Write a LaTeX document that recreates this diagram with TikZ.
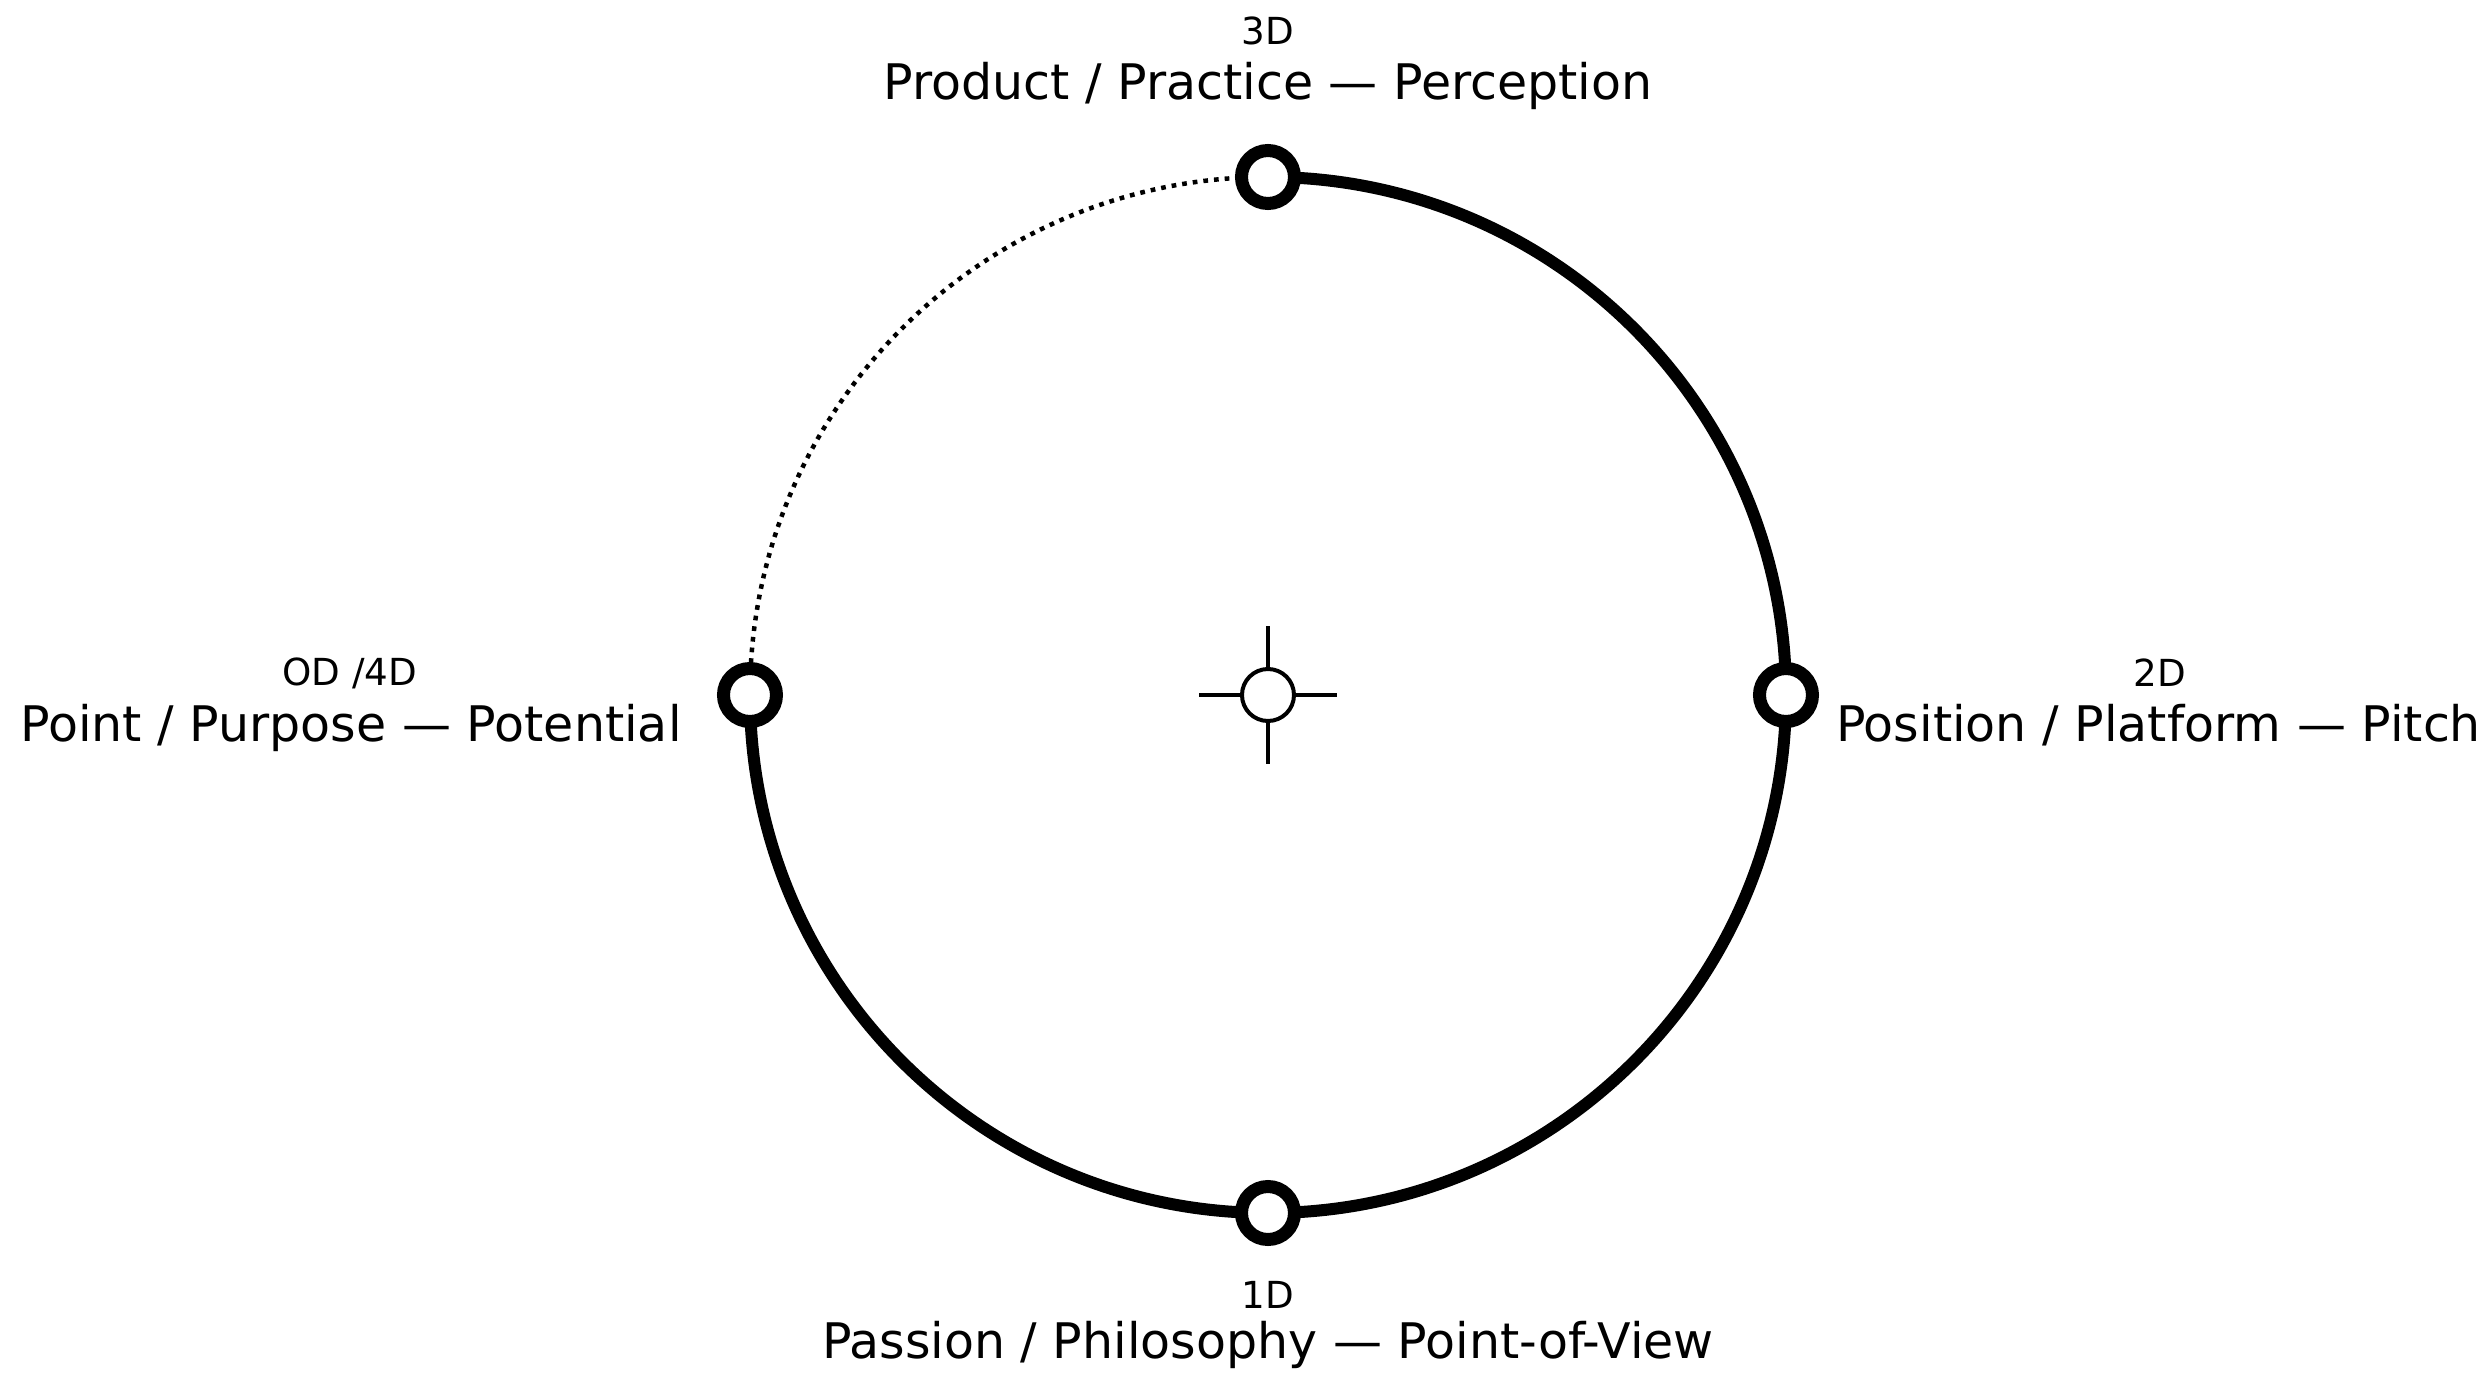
\documentclass[tikz,border=0pt]{standalone}
\usepackage{fontspec}
\setmainfont{DejaVu Sans}
\usepackage{tikz}
\usetikzlibrary{positioning, backgrounds}

\begin{document}
\begin{tikzpicture}[
    every node/.style={font=\fontsize{13.95}{16}\selectfont},
    phasetxt/.style={anchor=base},
    dimtag/.style={anchor=base, font=\fontsize{10.6}{12}\selectfont},
    phasept/.style={circle, draw, fill=white, line width=1.3mm, minimum size=5.3mm, inner sep=0pt},
    hubring/.style={circle, draw, fill=white, line width=0.4mm, minimum size=5.2mm, inner sep=0pt},
    outerring/.style={line width=1.2mm},
    openring/.style={line width=0.45mm, dash pattern=on 0.47mm off 0.6mm}
]
    \useasboundingbox (-12.68, -6.78) rectangle (12.19, 6.95);
    \def\R{5.18}

    % 中心
    \node[hubring] (hub) at (0, 0) {};
    \foreach \a/\d in {north/90, east/0, south/270, west/180} {
        \coordinate (tip-\a) at (\d:0.69);
        \draw[line width=0.4mm] (hub.\a) -- (tip-\a);
    }

    % 四个点
    \node[phasept] (p3) at (90:\R) {};
    \node[phasept] (p2) at (0:\R) {};
    \node[phasept] (p1) at (270:\R) {};
    \node[phasept] (p0) at (180:\R) {};

    % 外圈
    \begin{scope}[on background layer]
        \draw[outerring] (p3.center) arc[start angle=90, end angle=0, radius=\R];
        \draw[outerring] (p2.center) arc[start angle=0, end angle=-90, radius=\R];
        \draw[outerring] (p1.center) arc[start angle=270, end angle=180, radius=\R];
        \draw[openring] (p0.center) arc[start angle=180, end angle=90, radius=\R];
    \end{scope}

    % 标签
    \node[dimtag] (dim3) at (0, 6.51) {3D};
    \node[phasetxt] (lab3) at (0, 5.96) {Product / Practice — Perception};
    \node[dimtag] (dim2) at (8.92, 0.083) {2D};
    \node[phasetxt] (lab2) at (8.905, -0.467) {Position / Platform — Pitch};
    \node[dimtag] (dim1) at (0, -6.13) {1D};
    \node[phasetxt] (lab1) at (0, -6.63) {Passion / Philosophy — Point-of-View};
    \node[dimtag] (dim0) at (-9.18, 0.10) {OD /4D};
    \node[phasetxt] (lab0) at (-9.17, -0.467) {Point / Purpose — Potential};
\end{tikzpicture}
\end{document}
